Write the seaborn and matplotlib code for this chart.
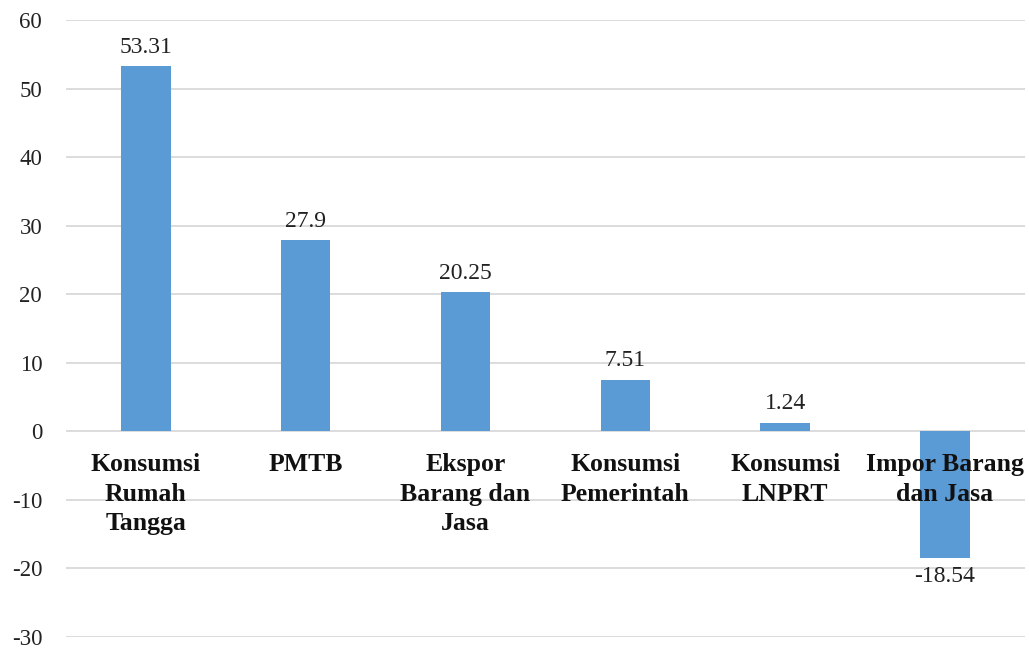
import matplotlib
matplotlib.use("Agg")
import matplotlib.pyplot as plt
import seaborn as sns
import pandas as pd

categories = ["Konsumsi\nRumah\nTangga", "PMTB", "Ekspor\nBarang dan\nJasa",
              "Konsumsi\nPemerintah", "Konsumsi\nLNPRT", "Impor Barang\ndan Jasa"]
values = [53.31, 27.9, 20.25, 7.51, 1.24, -18.54]
value_labels = ["53.31", "27.9", "20.25", "7.51", "1.24", "-18.54"]
y_ticks = [-30, -20, -10, 0, 10, 20, 30, 40, 50, 60]

plt.rcParams["font.family"] = ["Liberation Serif", "DejaVu Serif"]

df = pd.DataFrame({"kategori": categories, "nilai": values})

fig = plt.figure(figsize=(10.29, 6.49), dpi=100)
ax = fig.add_axes([0.064, 0.019, 0.932, 0.950])

sns.barplot(data=df, x="kategori", y="nilai", color="#5B9BD5", width=0.31,
            saturation=1, ax=ax, zorder=3)

ax.set_ylim(-30, 60)
ax.set_xlim(-0.5, len(categories) - 0.5)
ax.set_yticks(y_ticks)
ax.set_yticklabels([str(t) for t in y_ticks], fontsize=16.5, color="#222222")
ax.tick_params(axis="y", length=0, pad=17)
ax.tick_params(axis="x", length=0, labelbottom=False)
ax.set_xlabel("")
ax.set_ylabel("")
ax.grid(axis="y", color="#d9d9d9", linewidth=1.3, zorder=0)
ax.set_axisbelow(True)
for s in ax.spines.values():
    s.set_visible(False)

# value labels above/below each bar
for i, (v, lab) in enumerate(zip(values, value_labels)):
    if v >= 0:
        ax.annotate(lab, (i, v), xytext=(0, 6), textcoords="offset points",
                    ha="center", va="bottom", fontsize=17, color="#222222")
    else:
        ax.annotate(lab, (i, v), xytext=(0, -6), textcoords="offset points",
                    ha="center", va="top", fontsize=17, color="#222222")

# category names just below the zero line
for i, cat in enumerate(categories):
    ax.annotate(cat, (i, 0), xytext=(0, -16), textcoords="offset points",
                ha="center", va="top", fontsize=18.5, fontweight="bold",
                color="#111111", linespacing=1.35, zorder=5)

fig.savefig("out.png", dpi=100)
